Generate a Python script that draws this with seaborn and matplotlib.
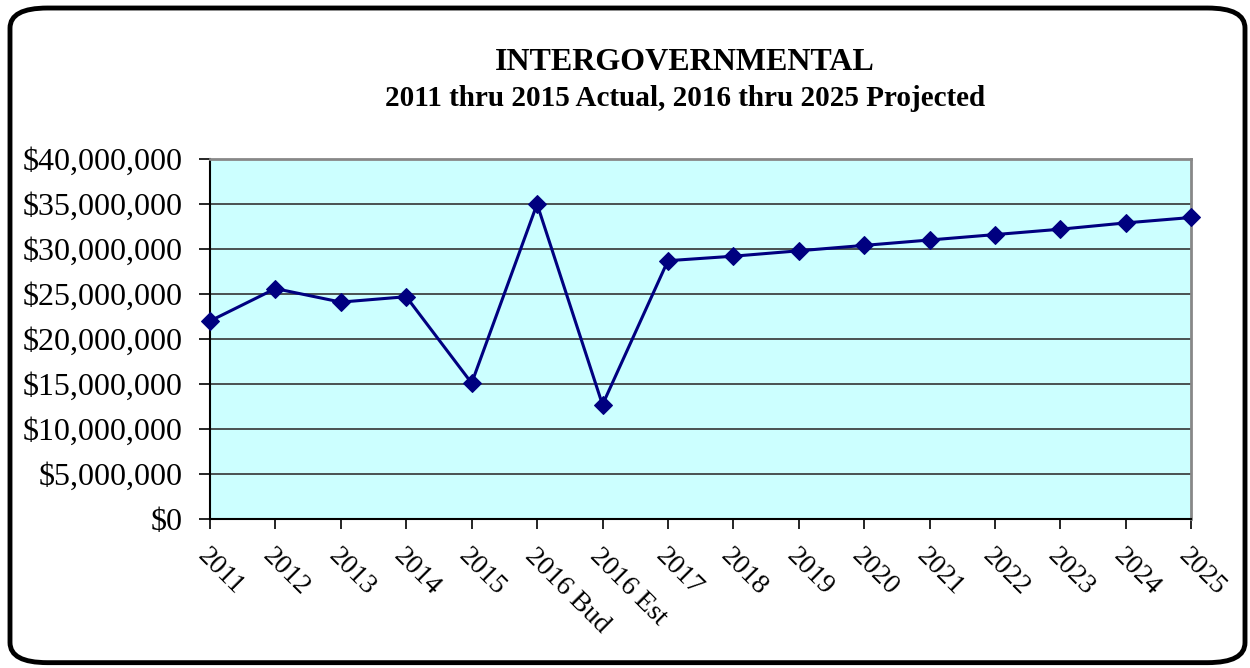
import pandas as pd
import seaborn as sns
import matplotlib.pyplot as plt
from matplotlib.patches import FancyBboxPatch
from matplotlib.ticker import FuncFormatter

# Chart data
years = ["2011", "2012", "2013", "2014", "2015", "2016 Bud", "2016 Est", "2017",
         "2018", "2019", "2020", "2021", "2022", "2023", "2024", "2025"]
revenue = [22000000, 25600000, 24100000, 24700000, 15100000, 35000000, 12700000, 28700000,
           29200000, 29800000, 30400000, 31000000, 31600000, 32200000, 32900000, 33500000]

df = pd.DataFrame({"year": years, "revenue": revenue})
df["pos"] = range(len(df))

sns.set_style("white")
plt.rcParams["font.family"] = ["Liberation Serif", "DejaVu Serif"]
plt.rcParams["text.color"] = "black"
plt.rcParams["xtick.color"] = "black"
plt.rcParams["ytick.color"] = "black"

fig = plt.figure(figsize=(12.5, 6.68), dpi=100)

# rounded frame around the whole chart
frame = FancyBboxPatch((0.008, 0.008), 0.988, 0.98, boxstyle="round,pad=0,rounding_size=0.03",
                       transform=fig.transFigure, facecolor="white", edgecolor="black",
                       linewidth=3.5, zorder=-10)
fig.patches.append(frame)

ax = fig.add_axes([0.168, 0.223, 0.785, 0.539])
ax.set_facecolor("#CCFFFF")

sns.lineplot(data=df, x="pos", y="revenue", ax=ax, color="#000080", linewidth=2.2,
             marker="D", markersize=9, markeredgecolor="#000080", zorder=3, clip_on=False)

ax.set_xlim(0, len(years) - 1)
ax.set_ylim(0, 40000000)
ax.set_yticks(range(0, 40000001, 5000000))
ax.yaxis.set_major_formatter(FuncFormatter(lambda v, p: f"${v:,.0f}"))
ax.set_xticks(df["pos"])
ax.set_xticklabels(years, rotation=-45, ha="left", va="top", rotation_mode="anchor", fontsize=20)
ax.tick_params(axis="y", labelsize=23, length=8, width=1.2, direction="out", left=True, pad=12)
ax.tick_params(axis="x", length=7, width=1.2, direction="out", bottom=True, pad=11)

ax.grid(axis="y", color="#333333", linewidth=1.2)
ax.grid(axis="x", visible=False)
ax.set_axisbelow(True)

for side in ["left", "bottom"]:
    ax.spines[side].set_color("black")
    ax.spines[side].set_linewidth(1.5)
for side in ["top", "right"]:
    ax.spines[side].set_color("#888888")
    ax.spines[side].set_linewidth(2)

ax.set_xlabel("")
ax.set_ylabel("")

fig.text(0.548, 0.907, "INTERGOVERNMENTAL", ha="center", va="center", fontsize=23, fontweight="bold")
fig.text(0.548, 0.853, "2011 thru 2015 Actual, 2016 thru 2025 Projected", ha="center", va="center",
         fontsize=21, fontweight="bold")

plt.savefig("out.png", dpi=100)
